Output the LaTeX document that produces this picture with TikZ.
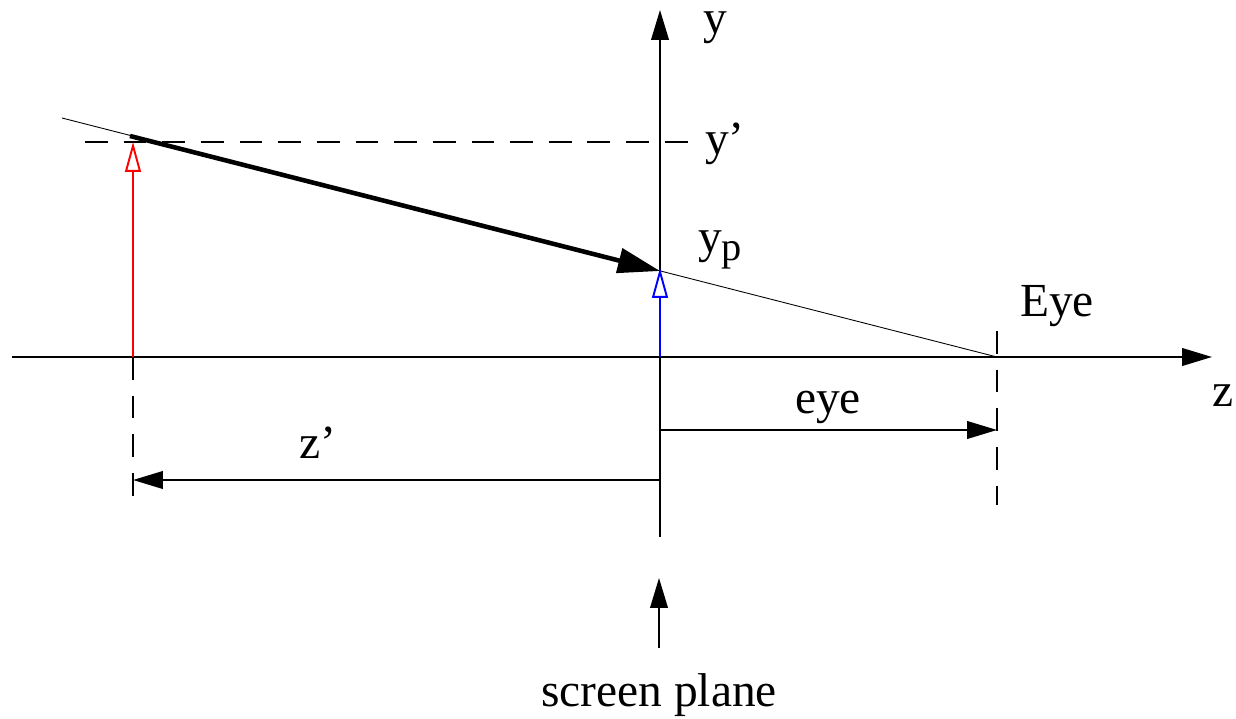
\documentclass[tikz,border=0pt]{standalone}
\usepackage{fontspec}
\setmainfont{Liberation Serif}
\usetikzlibrary{arrows.meta,positioning}

\begin{document}
\begin{tikzpicture}[x=0.02cm, y=-0.02cm,
  every node/.style={inner sep=0pt, font=\fontsize{27}{32}\selectfont},
  axis/.style={line width=1.1pt, -{Triangle[length=17pt,width=10pt]}},
  dim/.style={line width=1.1pt, -{Triangle[length=17pt,width=10pt]}},
  guide/.style={line width=1.1pt, dash pattern=on 13pt off 9pt},
  ray/.style={line width=0.5pt},
  proj/.style={line width=2.6pt, -{Triangle[length=24pt,width=14pt]}},
  height/.style={line width=1.1pt, -{Triangle[open,fill=white,length=17pt,width=9pt]}}]
\useasboundingbox (0,0) rectangle (1236,719);

\coordinate (origin) at (660,357);
\coordinate (zend) at (1212,357);
\coordinate (zstart) at (12,357);
\coordinate (ybottom) at (660,537);
\coordinate (ytop) at (660,10);
\coordinate (eyept) at (997,357);
\coordinate (far) at (62,118);
\coordinate (obj) at (130,136);
\coordinate (objbase) at (133,357);
\coordinate (objtop) at (133,142);
\coordinate (proj) at (660,271);
\coordinate (ptop) at (660,268);

\node (ylab) at (715,28) {y};
\node (yplab) at (725,144) {y’};
\node (yplabel) at (720,250) {y\raisebox{-0.35ex}{\fontsize{23}{26}\selectfont p}};
\node (eyelab) at (1057,306) {Eye};
\node (zlab) at (1223,396) {z};
\node (eyedist) at (828,407) {eye};
\node (zdist) at (318,443) {z’};
\node (screen) at (659,695) {screen plane};

\draw[axis] (zstart) -- (zend);
\draw[axis] (ybottom) -- (ytop);
\draw[ray] (far) -- (eyept);
\draw[guide] (85,142) -- (690,142);
\draw[guide] (eyept |- 0,331) -- (eyept |- 0,505);
\draw[guide] (objbase) -- (133,505);
\draw[proj] (obj) -- (proj);
\draw[height, red] (objbase) -- (objtop);
\draw[height, blue] (origin) -- (ptop);
\draw[dim] (660,430) -- (eyept |- 0,430);
\draw[dim] (660,480) -- (objbase |- 0,480);
\draw[dim] (659,648) -- (659,578);
\end{tikzpicture}
\end{document}
